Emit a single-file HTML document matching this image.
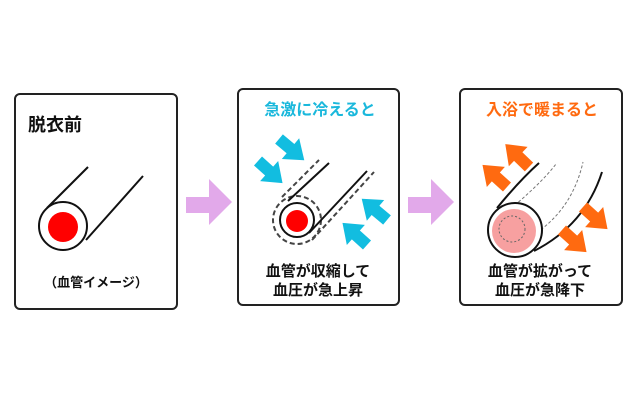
<!DOCTYPE html>
<html><head><meta charset="utf-8"><style>
html,body{margin:0;padding:0;background:#fff;}
svg{display:block;}
text{font-family:"Liberation Sans","Noto Sans CJK JP",sans-serif;font-weight:bold;}
</style></head><body>
<svg width="640" height="418" viewBox="0 0 640 418" xmlns="http://www.w3.org/2000/svg">
<defs>
<polygon id="ar" points="0,-6 15,-6 15,-13.5 33,0 15,13.5 15,6 0,6"/>
</defs>
<rect x="15" y="94" width="162" height="215" rx="5" fill="#fff" stroke="#222" stroke-width="2"/>
<rect x="238" y="89" width="161" height="216" rx="5" fill="#fff" stroke="#222" stroke-width="2"/>
<rect x="460" y="89" width="162" height="216" rx="5" fill="#fff" stroke="#222" stroke-width="2"/>
<polygon points="186,197 209,197 209,179 232,202 209,225 209,213 186,213" fill="#e2a9ea"/>
<polygon points="408,197 431,197 431,179 454,202 431,225 431,213 408,213" fill="#e2a9ea"/>
<text x="28" y="131" font-size="18" fill="#111">脱衣前</text>
<line x1="47" y1="208" x2="88" y2="167" stroke="#111" stroke-width="2"/>
<line x1="86" y1="240" x2="143" y2="176" stroke="#111" stroke-width="2"/>
<circle cx="63" cy="226" r="24" fill="#fff" stroke="#111" stroke-width="2"/>
<circle cx="63" cy="227" r="15" fill="#f00"/>
<text x="96" y="287" font-size="13" fill="#111" text-anchor="middle">（血管イメージ）</text>
<text x="320" y="115" font-size="16" fill="#1ab8dc" text-anchor="middle">急激に冷えると</text>
<line x1="282" y1="197" x2="319" y2="160" stroke="#444" stroke-width="2" stroke-dasharray="5,3"/>
<line x1="312" y1="240" x2="374" y2="172" stroke="#444" stroke-width="2" stroke-dasharray="5,3"/>
<circle cx="297" cy="220" r="24" fill="#fff" stroke="#444" stroke-width="2" stroke-dasharray="5,3"/>
<line x1="288" y1="201" x2="329" y2="163" stroke="#111" stroke-width="2"/>
<line x1="309" y1="233" x2="367" y2="171" stroke="#111" stroke-width="2"/>
<circle cx="297" cy="220" r="17" fill="#fff" stroke="#111" stroke-width="2"/>
<circle cx="297" cy="221" r="11" fill="#f00"/>
<g fill="#12bde0">
<use href="#ar" transform="translate(279,139) rotate(40)"/>
<use href="#ar" transform="translate(258,161) rotate(42)"/>
<use href="#ar" transform="translate(387,220) rotate(-140)"/>
<use href="#ar" transform="translate(367,245) rotate(-138)"/>
</g>
<text x="318" y="276" font-size="15" fill="#111" text-anchor="middle">血管が収縮して</text>
<text x="318" y="295" font-size="15" fill="#111" text-anchor="middle">血圧が急上昇</text>
<text x="542" y="115" font-size="16" fill="#ff6a10" text-anchor="middle">入浴で暖まると</text>
<path d="M497,208 Q520,180 539,163" stroke="#111" stroke-width="2" fill="none"/>
<path d="M534,251 Q585,225 602,172" stroke="#111" stroke-width="2" fill="none"/>
<path d="M503,215 Q540,185 556,164" stroke="#777" stroke-width="1" fill="none" stroke-dasharray="3,2"/>
<path d="M515,245 Q570,220 583,162" stroke="#777" stroke-width="1" fill="none" stroke-dasharray="3,2"/>
<circle cx="515" cy="230" r="27" fill="#fff" stroke="#111" stroke-width="2"/>
<circle cx="514" cy="231" r="22" fill="#f7a0a0"/>
<circle cx="512" cy="229" r="13" fill="none" stroke="#666" stroke-width="1" stroke-dasharray="2,2"/>
<g fill="#ff6a10">
<use href="#ar" transform="translate(507,187) rotate(-138)"/>
<use href="#ar" transform="translate(529,167) rotate(-136)"/>
<use href="#ar" transform="translate(583,207) rotate(42)"/>
<use href="#ar" transform="translate(562,230) rotate(42)"/>
</g>
<text x="540" y="276" font-size="15" fill="#111" text-anchor="middle">血管が拡がって</text>
<text x="540" y="295" font-size="15" fill="#111" text-anchor="middle">血圧が急降下</text>
</svg>
</body></html>
